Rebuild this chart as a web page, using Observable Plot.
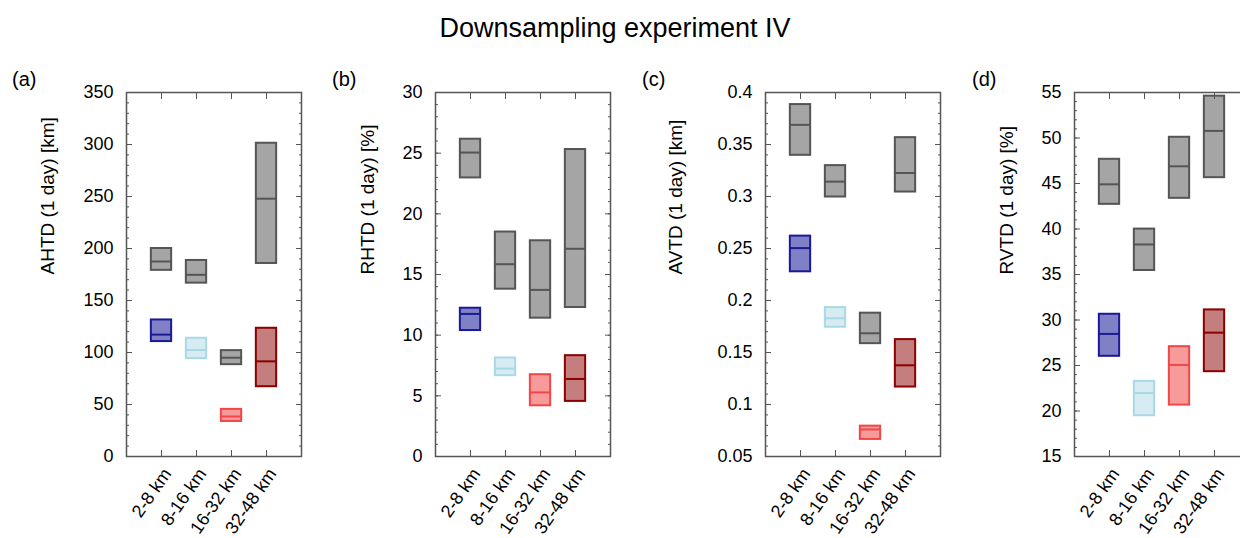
<!DOCTYPE html>
<html><head><meta charset="utf-8">
<script src="https://cdn.jsdelivr.net/npm/d3@7"></script>
<script src="https://cdn.jsdelivr.net/npm/@observablehq/plot@0.6"></script>
<style>
body{margin:0;background:#fff;font-family:"Liberation Sans",Arial,Helvetica,sans-serif;}
#wrap{position:relative;width:1240px;height:538px;overflow:hidden;background:#fff;}
#title{position:absolute;left:0;top:15px;width:1230px;text-align:center;font-size:27px;line-height:27px;color:#000;}
.plabel{position:absolute;top:69px;font-size:20px;line-height:20px;color:#000;}
.panel{position:absolute;top:60px;}
.panel svg{max-width:none !important;}
</style></head>
<body>
<div id="wrap"><div id="title">Downsampling experiment IV</div></div>
<script>
// ---- data ----
const categories = ["2-8 km", "8-16 km", "16-32 km", "32-48 km"];
const panelLabels = ["(a)", "(b)", "(c)", "(d)"];
const yLabels = ["AHTD (1 day) [km]", "RHTD (1 day) [%]", "AVTD (1 day) [km]", "RVTD (1 day) [%]"];
const yDomains = [[0, 350], [0, 30], [0.05, 0.4], [15, 55]];
const yTicksA = [0, 50, 100, 150, 200, 250, 300, 350];
const yTicksB = [0, 5, 10, 15, 20, 25, 30];
const yTicksC = [0.05, 0.1, 0.15, 0.2, 0.25, 0.3, 0.35, 0.4];
const yTicksD = [15, 20, 25, 30, 35, 40, 45, 50, 55];
const minorSteps = [10, 1, 0.01, 1];

// [low, median, high] per category; gray = reference, col = downsampled
const grayA = [[179, 187.5, 200], [166.7, 174.7, 188.5], [88.3, 95, 101.8], [185.6, 247.9, 301.2]];
const colA  = [[110.5, 117.2, 131.3], [94.1, 102.4, 113.7], [33.7, 38.5, 45.3], [67.1, 91.5, 123.3]];
const grayB = [[22.96, 25.05, 26.15], [13.79, 15.85, 18.5], [11.4, 13.73, 17.78], [12.28, 17.12, 25.3]];
const colB  = [[10.38, 11.75, 12.22], [6.66, 7.24, 8.12], [4.18, 5.28, 6.74], [4.54, 6.39, 8.31]];
const grayC = [[0.3396, 0.3689, 0.3884], [0.2995, 0.3143, 0.3297], [0.1585, 0.1685, 0.1878], [0.3043, 0.3226, 0.3566]];
const colC  = [[0.2276, 0.2504, 0.2619], [0.1743, 0.1829, 0.1932], [0.0664, 0.076, 0.0792], [0.1168, 0.1377, 0.1624]];
const grayD = [[42.71, 44.91, 47.66], [35.44, 38.3, 39.99], [43.37, 46.89, 50.08], [45.64, 50.78, 54.6]];
const colD  = [[26.01, 28.47, 30.63], [19.48, 21.97, 23.26], [20.65, 25.06, 27.07], [24.32, 28.61, 31.11]];

// ---- styles ----
const grayFill = "#a5a5a5", grayStroke = "#555555";
const colFills = ["#8080c6", "#d6ebf2", "#f79a9a", "#c57e7e"];
const colStrokes = ["#1a1a96", "#a9d8e6", "#f04848", "#8b0000"];
const panels = [
  {left: 0,   ml: 126, lab: 12,  off: 79, ticks: yTicksA, gray: grayA, col: colA},
  {left: 320, ml: 115, lab: 332, off: 68, ticks: yTicksB, gray: grayB, col: colB},
  {left: 630, ml: 135, lab: 642, off: 90, ticks: yTicksC, gray: grayC, col: colC},
  {left: 942, ml: 132, lab: 972, off: 68, ticks: yTicksD, gray: grayD, col: colD}
];
const half = 0.29;
const wrap = document.getElementById("wrap");

panels.forEach((p, k) => {
  const rows = (arr, isGray) => arr.map((v, i) => ({
    pos: i + 1, lo: v[0], med: v[1], hi: v[2],
    fill: isGray ? grayFill : colFills[i], stroke: isGray ? grayStroke : colStrokes[i]
  }));
  const data = rows(p.gray, true).concat(rows(p.col, false));
  const dom = yDomains[k];
  const minor = d3.range(Math.round((dom[1] - dom[0]) / minorSteps[k]) + 1).map(j => +(dom[0] + j * minorSteps[k]).toFixed(4));
  const W = p.ml + 175 + 20;
  const chart = Plot.plot({
    width: W, height: 478,
    marginLeft: p.ml, marginRight: 20, marginTop: 32, marginBottom: 82,
    style: {fontFamily: "'Liberation Sans', Arial, sans-serif", fontSize: "18px", color: "#000", background: "transparent", maxWidth: "none"},
    x: {domain: [0, 5]},
    y: {domain: dom},
    marks: [
      Plot.rect(data, {x1: d => d.pos - half, x2: d => d.pos + half, y1: "lo", y2: "hi", fill: d => d.fill, stroke: d => d.stroke, strokeWidth: 2}),
      Plot.ruleY(data, {y: "med", x1: d => d.pos - half, x2: d => d.pos + half, stroke: d => d.stroke, strokeWidth: 2}),
      Plot.axisY({ticks: p.ticks, tickSize: -6, fill: "none", stroke: grayStroke}),
      Plot.axisY({anchor: "right", ticks: p.ticks, tickSize: -6, fill: "none", stroke: grayStroke}),
      Plot.axisY({ticks: minor, tickSize: -3, fill: "none", stroke: grayStroke}),
      Plot.axisY({anchor: "right", ticks: minor, tickSize: -3, fill: "none", stroke: grayStroke}),
      Plot.axisY({ticks: p.ticks, tickSize: 0, tickPadding: 13, label: null, tickFormat: d3.format("~g"), fill: "#000", fontSize: 18}),
      Plot.axisX({anchor: "bottom", ticks: [1, 2, 3, 4], tickSize: -6, fill: "none", stroke: grayStroke}),
      Plot.axisX({anchor: "top", ticks: [1, 2, 3, 4], tickSize: -6, fill: "none", stroke: grayStroke}),
      Plot.text(categories, {x: (d, i) => i + 1, text: d => d, frameAnchor: "bottom", rotate: -55, textAnchor: "end", lineAnchor: "middle", dx: 6, dy: 14, fontSize: 18, fill: "#000"}),
      Plot.text([yLabels[k]], {text: d => d, frameAnchor: "left", rotate: -90, dx: -p.off, fontSize: 19, fill: "#000"}),
      Plot.frame({stroke: grayStroke, strokeWidth: 1.5})
    ]
  });
  chart.style.maxWidth = "none";
  chart.style.width = W + "px";
  chart.style.height = "478px";
  const div = document.createElement("div");
  div.className = "panel";
  div.style.left = p.left + "px";
  div.style.width = W + "px";
  div.appendChild(chart);
  wrap.appendChild(div);
  const lab = document.createElement("div");
  lab.className = "plabel";
  lab.style.left = p.lab + "px";
  lab.textContent = panelLabels[k];
  wrap.appendChild(lab);
});
</script>
</body></html>
